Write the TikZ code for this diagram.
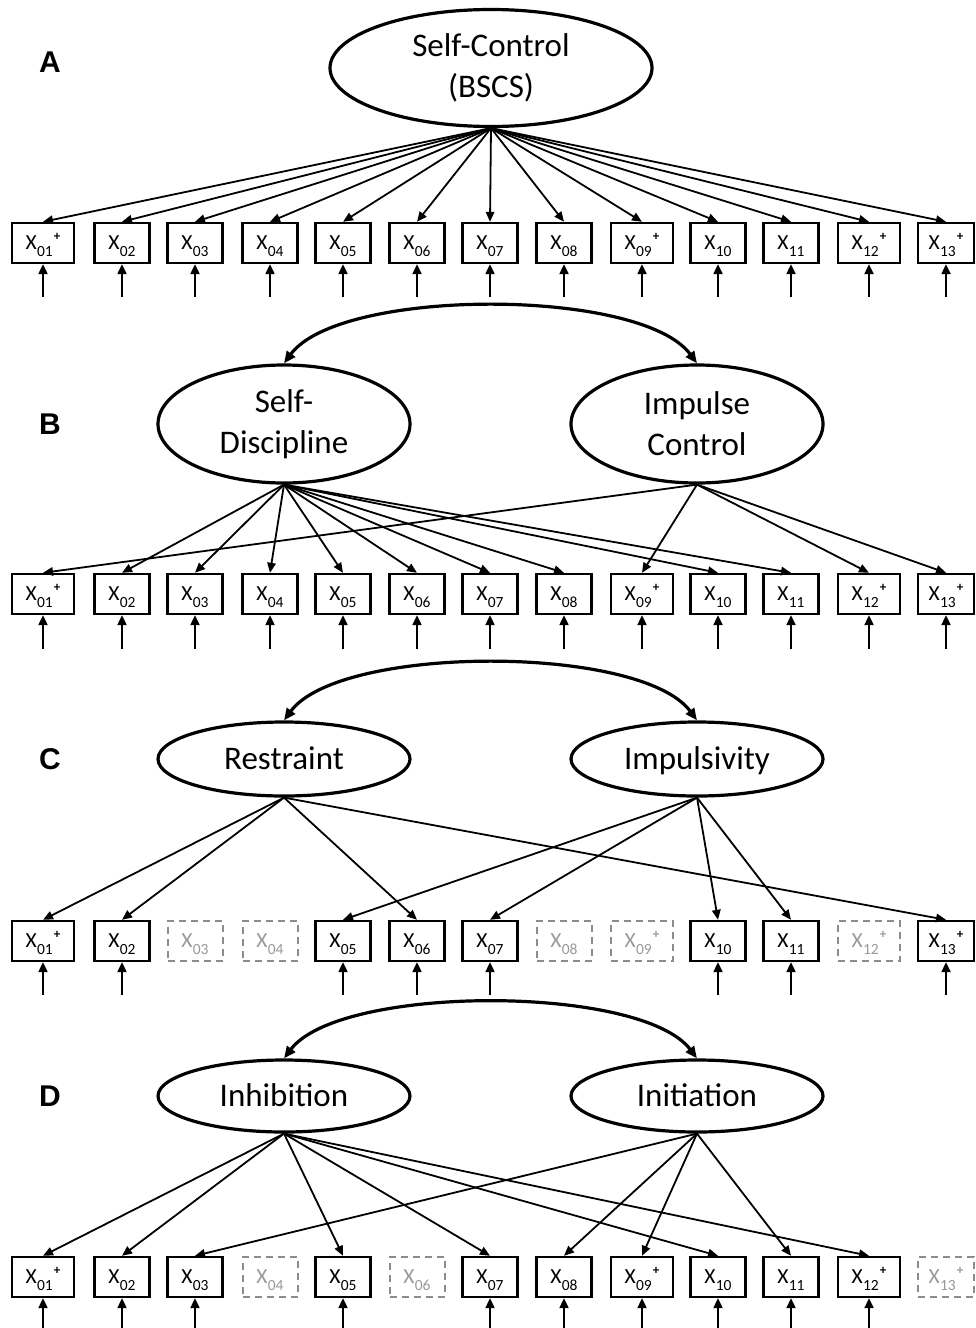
\documentclass[tikz,border=0pt]{standalone}
\usepackage{fontspec}
\setmainfont{Carlito}
\newfontfamily\panelfam{Liberation Sans}
\usetikzlibrary{shapes.geometric,arrows.meta,calc}
\newcommand\latfont{\fontsize{33}{41}\selectfont}
\newcommand\panelfont{\panelfam\bfseries\fontsize{30}{30}\selectfont}
\newcommand\xv[2]{\fontsize{21.5}{20}\selectfont X\kern0.2pt\raisebox{-6.5pt}{\fontsize{15.5}{14}\selectfont #1}\if+#2\kern1pt\raisebox{9pt}{\fontsize{13}{12}\selectfont\bfseries +}\fi}
\tikzset{
  obs/.style={draw, rectangle, line width=2.4pt, minimum height=40pt, inner sep=0pt, text height=18pt, text depth=5pt},
  hid/.style={draw=black!45, rectangle, dash pattern=on 7pt off 5pt, line width=2pt, text=black!40, minimum height=40pt, inner sep=0pt, text height=18pt, text depth=5pt},
  lat/.style={draw, ellipse, line width=3.2pt, inner sep=0pt, align=center, font=\latfont},
  lat1/.style={lat, text height=26pt, text depth=6pt},
  load/.style={line width=1.8pt, -{Triangle[length=10pt,width=8.5pt]}},
  err/.style={line width=2.2pt, -{Triangle[length=10pt,width=9pt]}},
  corr/.style={line width=3.2pt, {Triangle[length=12pt,width=10pt]}-{Triangle[length=12pt,width=10pt]}},
  panel/.style={font=\panelfont, inner sep=0pt}
}
\begin{document}
\begin{tikzpicture}[x=1pt,y=-1pt]
\useasboundingbox (0,0) rectangle (975,1328);

% ---------------- Panel A ----------------
\node[panel] (pA) at (50,62) {A};
\node[lat, minimum width=322pt, minimum height=117pt] (FA) at (491,68) {Self-Control\\(BSCS)};
\foreach \n/\x/\w/\p/\st in {01/43/62/+/obs, 02/122/55/-/obs, 03/195/55/-/obs, 04/270/55/-/obs, 05/343/55/-/obs, 06/417/55/-/obs, 07/490/55/-/obs, 08/564/55/-/obs, 09/642/62/+/obs, 10/718/55/-/obs, 11/791/55/-/obs, 12/869/62/+/obs, 13/946/56/+/obs}
  \node[\st, minimum width=\w pt] (A\n) at (\x,243) {\xv{\n}{\p}};
\foreach \n in {01,02,03,04,05,06,07,08,09,10,11,12,13}{
  \draw[load] (FA.south) -- (A\n.north);
  \coordinate (eA\n) at ([yshift=-33pt]A\n.south);
  \draw[err] (eA\n) -- (A\n.south);
}

% ---------------- Panel B ----------------
\node[panel] (pB) at (50,424) {B};
\node[lat, minimum width=252pt, minimum height=118pt] (SD) at (284,424) {Self-\\Discipline};
\node[lat, minimum width=252pt, minimum height=118pt] (IC) at (697,424) {Impulse\\Control};
\draw[corr] (SD.north) .. controls +(56,-76) and +(-56,-76) .. (IC.north);
\foreach \n/\x/\w/\p/\st in {01/43/62/+/obs, 02/122/55/-/obs, 03/195/55/-/obs, 04/270/55/-/obs, 05/343/55/-/obs, 06/417/55/-/obs, 07/490/55/-/obs, 08/564/55/-/obs, 09/642/62/+/obs, 10/718/55/-/obs, 11/791/55/-/obs, 12/869/62/+/obs, 13/946/56/+/obs}
  \node[\st, minimum width=\w pt] (B\n) at (\x,594) {\xv{\n}{\p}};
\foreach \n in {02,03,04,05,06,07,08,10,11}
  \draw[load] (SD.south) -- (B\n.north);
\foreach \n in {01,09,12,13}
  \draw[load] (IC.south) -- (B\n.north);
\foreach \n in {01,02,03,04,05,06,07,08,09,10,11,12,13}{
  \coordinate (eB\n) at ([yshift=-34pt]B\n.south);
  \draw[err] (eB\n) -- (B\n.south);
}

% ---------------- Panel C ----------------
\node[panel] (pC) at (50,759) {C};
\node[lat1, minimum width=252pt, minimum height=74pt] (RS) at (284,759) {Restraint};
\node[lat1, minimum width=252pt, minimum height=74pt] (IM) at (697,759) {Impulsivity};
\draw[corr] (RS.north) .. controls +(56,-76) and +(-56,-76) .. (IM.north);
\foreach \n/\x/\w/\p/\st in {01/43/62/+/obs, 02/122/55/-/obs, 03/195/55/-/hid, 04/270/55/-/hid, 05/343/55/-/obs, 06/417/55/-/obs, 07/490/55/-/obs, 08/564/55/-/hid, 09/642/62/+/hid, 10/718/55/-/obs, 11/791/55/-/obs, 12/869/62/+/hid, 13/946/56/+/obs}
  \node[\st, minimum width=\w pt] (C\n) at (\x,941) {\xv{\n}{\p}};
\foreach \n in {01,02,06,13}
  \draw[load] (RS.south) -- (C\n.north);
\foreach \n in {05,07,10,11}
  \draw[load] (IM.south) -- (C\n.north);
\foreach \n in {01,02,05,06,07,10,11,13}{
  \coordinate (eC\n) at ([yshift=-33pt]C\n.south);
  \draw[err] (eC\n) -- (C\n.south);
}

% ---------------- Panel D ----------------
\node[panel] (pD) at (50,1096) {D};
\node[lat1, minimum width=252pt, minimum height=72pt] (IH) at (284,1096) {Inhibition};
\node[lat1, minimum width=252pt, minimum height=72pt] (IN) at (697,1096) {Initiation};
\draw[corr] (IH.north) .. controls +(56,-74) and +(-56,-74) .. (IN.north);
\foreach \n/\x/\w/\p/\st in {01/43/62/+/obs, 02/122/55/-/obs, 03/195/55/-/obs, 04/270/55/-/hid, 05/343/55/-/obs, 06/417/55/-/hid, 07/490/55/-/obs, 08/564/55/-/obs, 09/642/62/+/obs, 10/718/55/-/obs, 11/791/55/-/obs, 12/869/62/+/obs, 13/946/56/+/hid}
  \node[\st, minimum width=\w pt] (D\n) at (\x,1277) {\xv{\n}{\p}};
\foreach \n in {01,02,05,07,10,12}
  \draw[load] (IH.south) -- (D\n.north);
\foreach \n in {03,08,09,11}
  \draw[load] (IN.south) -- (D\n.north);
\foreach \n in {01,02,03,05,07,08,09,10,11,12}{
  \coordinate (eD\n) at ([yshift=-32pt]D\n.south);
  \draw[err] (eD\n) -- (D\n.south);
}
\end{tikzpicture}
\end{document}
